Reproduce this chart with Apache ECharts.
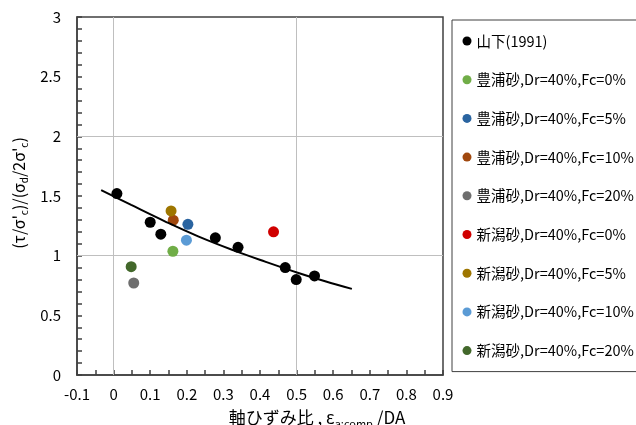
<!DOCTYPE html>
<html><head><meta charset="utf-8">
<script src="https://cdn.jsdelivr.net/npm/echarts@6/dist/echarts.min.js"></script>
<style>html,body{margin:0;padding:0;background:#fff}#c{width:636px;height:425px}</style>
</head><body><div id="c"></div>
<script>
// --- data ---
const seriesNames = ['山下(1991)','豊浦砂,Dr=40%,Fc=0%','豊浦砂,Dr=40%,Fc=5%','豊浦砂,Dr=40%,Fc=10%','豊浦砂,Dr=40%,Fc=20%','新潟砂,Dr=40%,Fc=0%','新潟砂,Dr=40%,Fc=5%','新潟砂,Dr=40%,Fc=10%','新潟砂,Dr=40%,Fc=20%'];
const seriesColors = ['#000000','#70AD47','#2A64A0','#A0480E','#6E6E6E','#D00000','#9E7600','#5B9BD5','#43682B'];
const yamashita = [[0.009,1.52],[0.100,1.28],[0.129,1.18],[0.278,1.15],[0.340,1.07],[0.469,0.90],[0.499,0.80],[0.549,0.83]];
const toyoura0  = [[0.162,1.037]];
const toyoura5  = [[0.203,1.263]];
const toyoura10 = [[0.163,1.297]];
const toyoura20 = [[0.055,0.771]];
const niigata0  = [[0.437,1.200]];
const niigata5  = [[0.157,1.375]];
const niigata10 = [[0.199,1.130]];
const niigata20 = [[0.048,0.908]];
const seriesData = [yamashita,toyoura0,toyoura5,toyoura10,toyoura20,niigata0,niigata5,niigata10,niigata20];
const trendCurve = [[-0.034,1.550],[0.048,1.425],[0.140,1.288],[0.231,1.162],[0.332,1.040],[0.414,0.950],[0.503,0.857],[0.578,0.785],[0.651,0.722]];
const xGridValues = [0, 0.5];
const yGridValues = [1, 2];

const chart = echarts.init(document.getElementById('c'), null, {renderer:'canvas'});
const FONT = '"Noto Sans CJK JP", "Noto Sans", sans-serif';
const series = seriesNames.map((n,i)=>({
  name:n, type:'scatter', data:seriesData[i], symbol:'circle', symbolSize:11,
  itemStyle:{color:seriesColors[i], opacity:1}, z:3
}));
series.push({
  name:'trend', type:'line', data:trendCurve, smooth:0.4, symbol:'none',
  lineStyle:{color:'#000',width:2}, z:4, silent:true,
  markLine:{silent:true, symbol:'none', z:1, label:{show:false},
    lineStyle:{color:'#BFBFBF',width:1,type:'solid'},
    data:[...xGridValues.map(v=>({xAxis:v})), ...yGridValues.map(v=>({yAxis:v}))]}
});
const axisLineStyle = {color:'#404040', width:1.5};
chart.setOption({
  animation:false,
  grid:{left:77,right:193,top:17,bottom:50,show:true,borderColor:'#404040',borderWidth:1.5,
    containLabel:false, outerBoundsMode:'none'},
  xAxis:{type:'value',min:-0.1,max:0.9,interval:0.1,
    axisLine:{show:true,onZero:false,lineStyle:axisLineStyle},
    axisTick:{show:true,inside:true,length:5,lineStyle:axisLineStyle},
    minorTick:{show:true,splitNumber:2,length:5,lineStyle:axisLineStyle},
    splitLine:{show:false},
    axisLabel:{color:'#000',fontSize:15,fontFamily:FONT,margin:12,formatter:v=>String(Math.round(v*10)/10)},
    name:'軸ひずみ比 , ε{sub|a:comp} /DA', nameLocation:'middle', nameGap:28,
    nameTextStyle:{color:'#000',fontSize:17,fontFamily:FONT,padding:[0,0,0,114],lineHeight:22,
      rich:{sub:{fontSize:11,fontFamily:FONT,color:'#000',lineHeight:11,verticalAlign:'bottom'}}}
  },
  yAxis:{type:'value',min:0,max:3,interval:0.5,
    axisLine:{show:true,onZero:false,lineStyle:axisLineStyle},
    axisTick:{show:true,inside:true,length:5,lineStyle:axisLineStyle},
    minorTick:{show:true,splitNumber:5,length:5,lineStyle:axisLineStyle},
    splitLine:{show:false},
    axisLabel:{color:'#000',fontSize:15,fontFamily:FONT,margin:16,formatter:v=>String(v)},
    name:"(τ/σ'{sub|c})/(σ{sub|d}/2σ'{sub|c})", nameLocation:'middle', nameRotate:90, nameGap:45,
    nameTextStyle:{color:'#000',fontSize:16,fontFamily:FONT,lineHeight:20,padding:[0,0,0,6],
      rich:{sub:{fontSize:10,fontFamily:FONT,color:'#000',lineHeight:10,verticalAlign:'bottom'}}}
  },
  legend:{data:seriesNames, orient:'vertical', left:452, top:20,
    padding:[13,80,13,10.5], itemGap:22.7, itemWidth:9, itemHeight:9, icon:'circle',
    borderColor:'#404040', borderWidth:1, backgroundColor:'#fff',
    textStyle:{fontSize:14.5,fontFamily:FONT,color:'#000',lineHeight:16}},
  series:series
});
</script></body></html>
